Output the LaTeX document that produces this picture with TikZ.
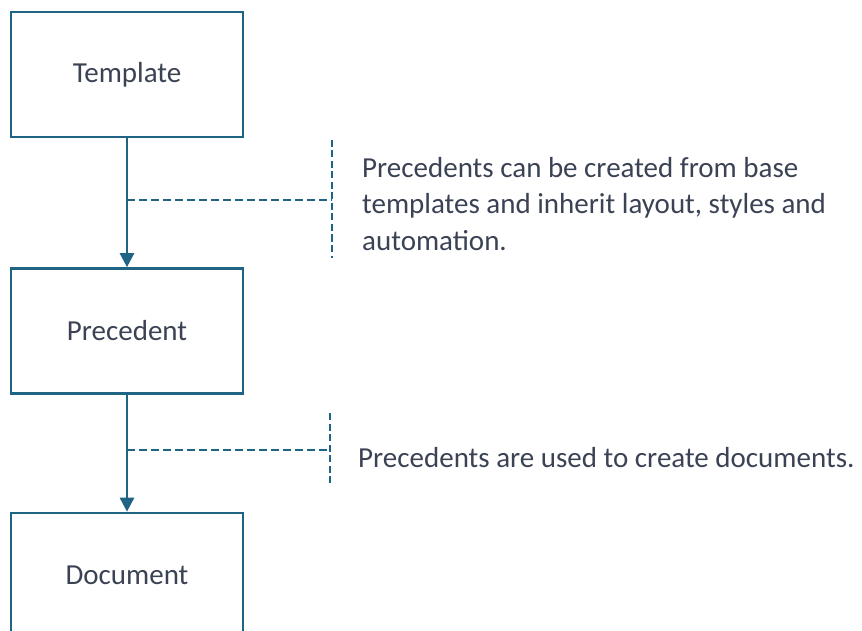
\documentclass[tikz,border=0pt]{standalone}
\usepackage{fontspec}
\setmainfont{Carlito}
\usetikzlibrary{arrows.meta}
\definecolor{stroke}{HTML}{1F6385}
\definecolor{txt}{HTML}{3A4254}
\begin{document}
\begin{tikzpicture}[x=1pt,y=-1pt,
  box/.style={draw=stroke,line width=2.6pt,minimum width=232pt,minimum height=125pt,inner sep=0pt,text=txt,font=\fontsize{29}{35}\selectfont},
  flow/.style={draw=stroke,line width=2.6pt,-{Triangle[width=14pt,length=14pt]}},
  hdash/.style={draw=stroke,line width=2.4pt,dash pattern=on 8pt off 4pt},
  vdash/.style={draw=stroke,line width=2.4pt,dash pattern=on 7pt off 3.5pt},
  note/.style={anchor=west,align=left,text=txt,inner sep=0pt,font=\fontsize{29}{36.5}\selectfont}]
\useasboundingbox (0,0) rectangle (862,631);
\node[box] (tpl) at (127,74.5) {Template};
\node[box] (prec) at (127,331) {Precedent};
\node[box] (doc) at (127,575.5) {Document};
\draw[flow] (tpl.south) -- (prec.north);
\draw[flow] (prec.south) -- (doc.north);
\coordinate (j1) at (127,200);
\coordinate (b1t) at (332,140);
\coordinate (b1b) at (332,258);
\coordinate (b1m) at (332,200);
\draw[hdash] (j1) -- (b1m);
\draw[vdash] (b1t) -- (b1b);
\coordinate (j2) at (127,450);
\coordinate (b2t) at (330,413);
\coordinate (b2b) at (330,486);
\coordinate (b2m) at (330,450);
\draw[hdash] (j2) -- (b2m);
\draw[vdash] (b2t) -- (b2b);
\node[note] (n1) at (362,204) {Precedents can be created from base\\templates and inherit layout, styles and\\automation.};
\node[note] (n2) at (358,458) {Precedents are used to create documents.};
\end{tikzpicture}
\end{document}
